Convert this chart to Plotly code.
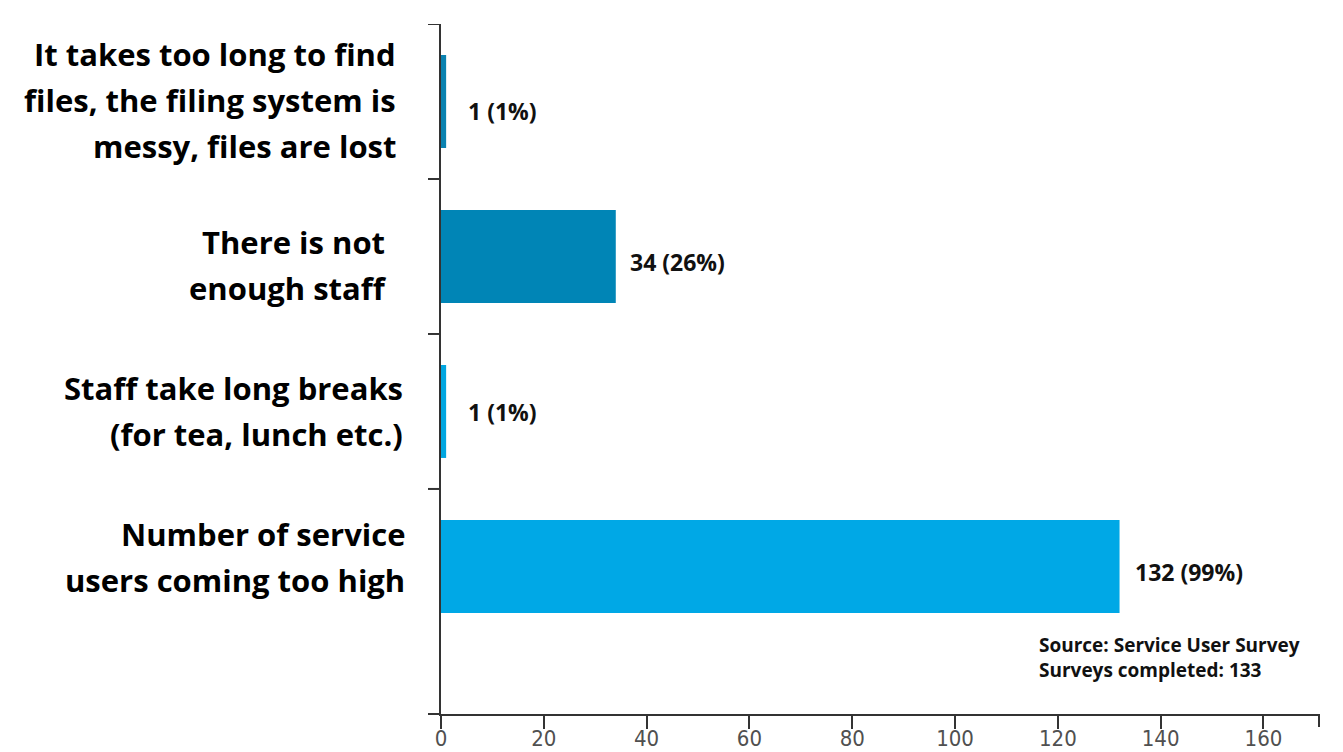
import plotly.graph_objects as go

# ---- data ----
categories = [
    "Number of service users coming too high",
    "Staff take long breaks (for tea, lunch etc.)",
    "There is not enough staff",
    "It takes too long to find files, the filing system is messy, files are lost",
]
label_lines = [
    ["Number of service", "users coming too high"],
    ["Staff take long breaks", "(for tea, lunch etc.)"],
    ["There is not ", "enough staff "],
    ["It takes too long to find", "files, the filing system is", "messy, files are lost"],
]
counts = [132, 1, 34, 1]
percents = [99, 1, 26, 1]
x_tick_values = [0, 20, 40, 60, 80, 100, 120, 140, 160]
source_lines = ["Source: Service User Survey", "Surveys completed: 133"]

# ---- style ----
bar_colors = ["#00A8E6", "#00A6E0", "#0085B6", "#0A82B0"]
label_right_px = [407, 405, 395, 398]   # right edge of category labels (px from left)
label_dy = [-9.5, 0, 9, -1.5]           # vertical offset of label block (px, down +)
value_dx = [13, 20, 12, 20]
value_dy = [6, 1, 6, 10]
AX = "#333333"
L, R, T, B = 441, 24, 24, 38
W, H = 1343, 752
PW, PH = W - L - R, H - T - B
XMAX = 170.8
LINE_H = 46
FONT = "Open Sans"

fig = go.Figure()
fig.add_trace(go.Bar(
    y=categories, x=counts, orientation="h",
    marker=dict(color=bar_colors, line=dict(width=0)),
    width=0.6, hoverinfo="x+y",
))

ann = []
for i, (c, p) in enumerate(zip(counts, percents)):
    ann.append(dict(
        x=c, y=categories[i], xref="x", yref="y", text=f"{c} ({p}%)",
        showarrow=False, xanchor="left", yanchor="middle",
        xshift=value_dx[i], yshift=-value_dy[i],
        font=dict(family=FONT, size=23, color="#111111", weight="bold"),
    ))
for i, lines in enumerate(label_lines):
    n = len(lines)
    for j, line in enumerate(lines):
        off = (j - (n - 1) / 2) * LINE_H + label_dy[i]
        ann.append(dict(
            x=0, y=categories[i], xref="paper", yref="y", text=line,
            showarrow=False, xanchor="right", yanchor="middle",
            xshift=label_right_px[i] - L, yshift=-off,
            font=dict(family=FONT, size=31, color="#000000", weight="bold"),
        ))
ann.append(dict(
    x=0, y=0, xref="paper", yref="paper",
    text="<br>".join(source_lines), align="left",
    showarrow=False, xanchor="left", yanchor="top",
    xshift=1037 - L, yshift=(714 - 630),
    font=dict(family=FONT, size=19, color="#111111", weight="bold"),
))

shapes = []
for yb in [0.5, 1.5, 2.5, 3.5]:
    shapes.append(dict(type="line", xref="paper", yref="y",
                       x0=-13 / PW, x1=0, y0=yb, y1=yb,
                       line=dict(color=AX, width=2)))
shapes.append(dict(type="line", xref="paper", yref="paper",
                   x0=-13 / PW, x1=0, y0=0, y1=0, line=dict(color=AX, width=2)))
shapes.append(dict(type="line", xref="paper", yref="paper",
                   x0=1, x1=1, y0=0, y1=-13 / PH, line=dict(color=AX, width=2)))

fig.update_layout(
    width=W, height=H, autosize=False,
    margin=dict(l=L, r=R, t=T, b=B, pad=0),
    paper_bgcolor="white", plot_bgcolor="white",
    showlegend=False, bargap=0.4,
    annotations=ann, shapes=shapes,
    xaxis=dict(
        range=[0, XMAX], tickvals=x_tick_values, automargin=False,
        showgrid=False, zeroline=False,
        showline=True, linecolor=AX, linewidth=2,
        ticks="outside", ticklen=13, tickwidth=2, tickcolor=AX,
        ticklabelstandoff=-9,
        tickfont=dict(family="Liberation Sans Narrow, Arial Narrow, DejaVu Sans Condensed",
                      size=22, color="#505050"),
        fixedrange=True,
    ),
    yaxis=dict(
        type="category", categoryorder="array", categoryarray=categories,
        range=[-0.952, 3.5], showticklabels=False, ticks="", automargin=False,
        showgrid=False, zeroline=False,
        showline=True, linecolor=AX, linewidth=2,
        fixedrange=True,
    ),
)

post = "document.body.style.margin='0';document.body.style.overflow='hidden';"
fig.write_html("out.html", config={"responsive": False, "displayModeBar": False},
               post_script=post)
